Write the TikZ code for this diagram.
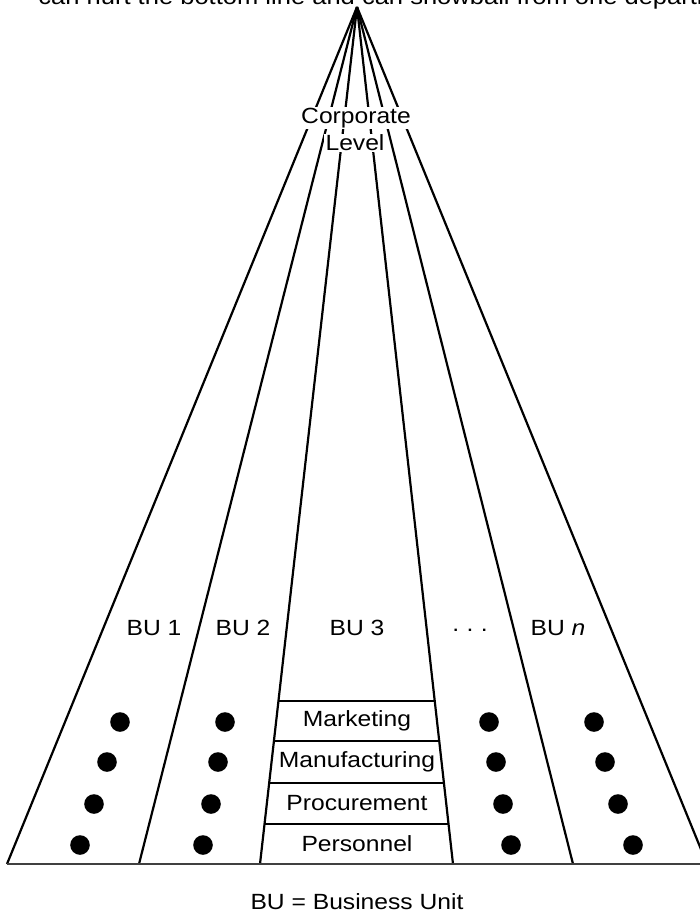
\documentclass[tikz,border=0pt]{standalone}
\usepackage{fontspec}
\setmainfont{Liberation Sans}[FakeStretch=1.12]
\usetikzlibrary{calc}

\begin{document}
\begin{tikzpicture}[x=0.5pt, y=-0.5pt,
  ray/.style={line width=1.1pt},
  base/.style={draw=black!75, line width=1.4pt},
  lbl/.style={font=\fontsize{11}{13}\selectfont, inner sep=1pt},
  corp/.style={lbl, fill=white, inner sep=0.6pt},
  unitdot/.style={circle, fill=black, inner sep=0pt, minimum size=9.8pt}
]
  \useasboundingbox (0,0) rectangle (700,915);
  \clip (0,0) rectangle (700,915);

  % running text cut off by the page edge
  \node[lbl, anchor=base west, inner sep=0pt, font=\fontsize{11.4}{13}\selectfont] (run) at (38,5) {can hurt the bottom line and can snowball from one department};

  \coordinate (apex) at (357,7);
  \coordinate (b1) at (7,864);
  \coordinate (b2) at (139,864);
  \coordinate (b3) at (260,864);
  \coordinate (b4) at (453,864);
  \coordinate (b5) at (573,864);
  \coordinate (b6) at (707,864);
  \coordinate (edge) at (702,864);

  \foreach \i in {1,...,6}
    \draw[ray] (apex) -- (b\i);
  \draw[base] (b1) -- (edge);

  % functions inside BU 3
  \foreach \t in {0.8098, 0.8565, 0.9055, 0.9533}
    \draw[ray] ($(apex)!\t!(b3)$) -- ($(apex)!\t!(b4)$);

  \node[corp] (corp) at (356,118) {Corporate};
  \node[corp] (level) at (355,143) {Level};

  \node[lbl] (bu1) at (154,628) {BU 1};
  \node[lbl] (bu2) at (243,628) {BU 2};
  \node[lbl] (bu3) at (357,628) {BU 3};
  \node[lbl] (bux) at (470,630) {.\,\,.\,\,.};
  \node[lbl] (bun) at (558,628) {BU \textit{n}};

  \node[lbl] (mkt) at (357,721) {Marketing};
  \node[lbl] (mfg) at (357,762) {Manufacturing};
  \node[lbl] (prc) at (357,803) {Procurement};
  \node[lbl] (per) at (357,844) {Personnel};

  % dots for the other business units
  \node[unitdot] (d11) at (120,722) {};
  \node[unitdot] (d12) at (107,762) {};
  \node[unitdot] (d13) at (94,804) {};
  \node[unitdot] (d14) at (80,845) {};
  \node[unitdot] (d21) at (225,722) {};
  \node[unitdot] (d22) at (218,762) {};
  \node[unitdot] (d23) at (211,804) {};
  \node[unitdot] (d24) at (203,845) {};
  \node[unitdot] (d31) at (489,722) {};
  \node[unitdot] (d32) at (496,762) {};
  \node[unitdot] (d33) at (503,804) {};
  \node[unitdot] (d34) at (511,845) {};
  \node[unitdot] (d41) at (594,722) {};
  \node[unitdot] (d42) at (605,762) {};
  \node[unitdot] (d43) at (618,804) {};
  \node[unitdot] (d44) at (633,845) {};

  \node[lbl] (key) at (357,902) {BU = Business Unit};
\end{tikzpicture}
\end{document}
